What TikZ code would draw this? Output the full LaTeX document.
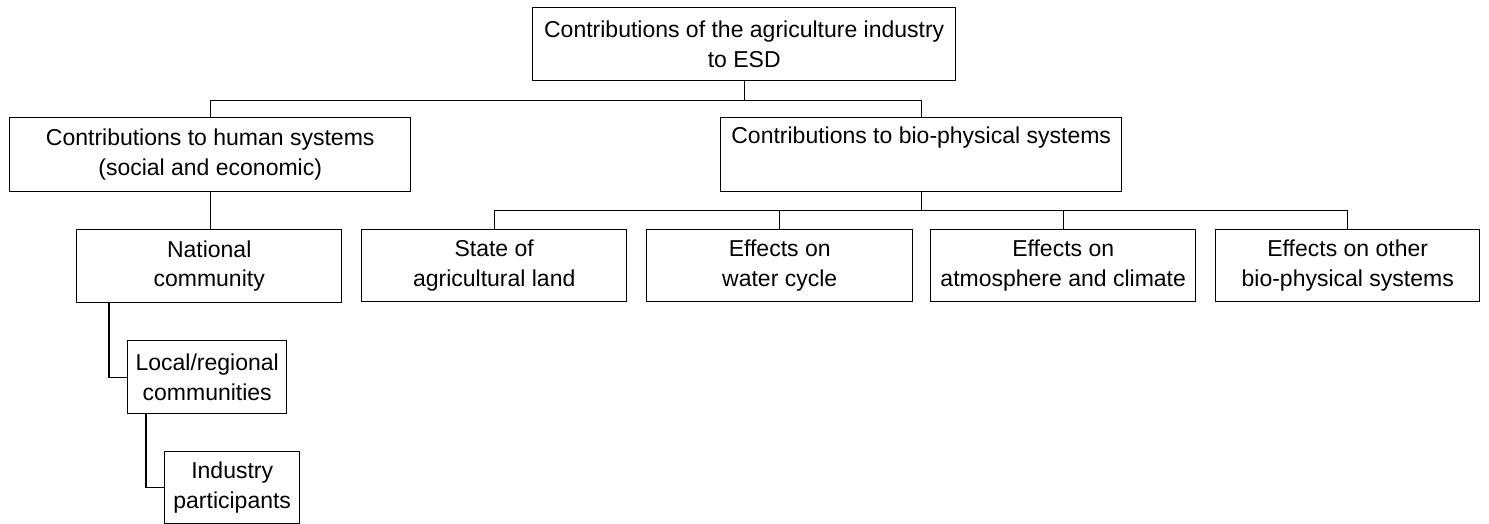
\documentclass[tikz,border=0pt]{standalone}
\usepackage{fontspec}
\setmainfont{Liberation Sans}
\usetikzlibrary{calc}
\begin{document}
\begin{tikzpicture}[x=1pt,y=-1pt,
  box/.style={draw, line width=1.4pt, align=center, inner sep=0pt,
    anchor=north west, font=\fontsize{23}{29.5}\selectfont},
  link/.style={line width=1.4pt}]
\useasboundingbox (0,0) rectangle (1489,524);

% top of the hierarchy
\node[box, minimum width=423pt, minimum height=73pt] (root) at (532,7)
  {Contributions of the agriculture industry\\to ESD};

% first level
\node[box, minimum width=401pt, minimum height=74pt] (human) at (9,117)
  {Contributions to human systems\\(social and economic)};
\node[box, minimum width=401pt, minimum height=74pt] (bio) at (720,117)
  {Contributions to bio-physical systems\\\strut};

% human systems branch
\node[box, minimum width=265pt, minimum height=73pt] (national) at (76,229)
  {National\\community};
\node[box, minimum width=159pt, minimum height=73pt] (local) at (127,340)
  {Local/regional\\communities};
\node[box, minimum width=135pt, minimum height=72pt] (industry) at (164,451)
  {Industry\\participants};

% bio-physical systems branch
\node[box, minimum width=265pt, minimum height=72pt] (land) at (361,229)
  {State of\\agricultural land};
\node[box, minimum width=266pt, minimum height=72pt] (water) at (646,229)
  {Effects on\\water cycle};
\node[box, minimum width=265pt, minimum height=72pt] (climate) at (930,229)
  {Effects on\\atmosphere and climate};
\node[box, minimum width=264pt, minimum height=72pt] (other) at (1215,229)
  {Effects on other\\bio-physical systems};

% connectors
\coordinate (rootbus) at ($(root.south)+(0,19)$);
\draw[link] (root.south) -- (rootbus);
\draw[link] (human.north) |- (rootbus) -| (bio.north);

\coordinate (biobus) at ($(bio.south)+(0,18)$);
\draw[link] (bio.south) -- (biobus);
\draw[link] (land.north) |- (biobus) -| (other.north);
\draw[link] (water.north) -- (water.north |- biobus);
\draw[link] (climate.north) -- (climate.north |- biobus);

\draw[link] (human.south) -- (human.south |- national.north);
\draw[link] ([xshift=33pt]national.south west) |- (local.west);
\draw[link] ([xshift=19pt]local.south west) |- (industry.west);
\end{tikzpicture}
\end{document}
